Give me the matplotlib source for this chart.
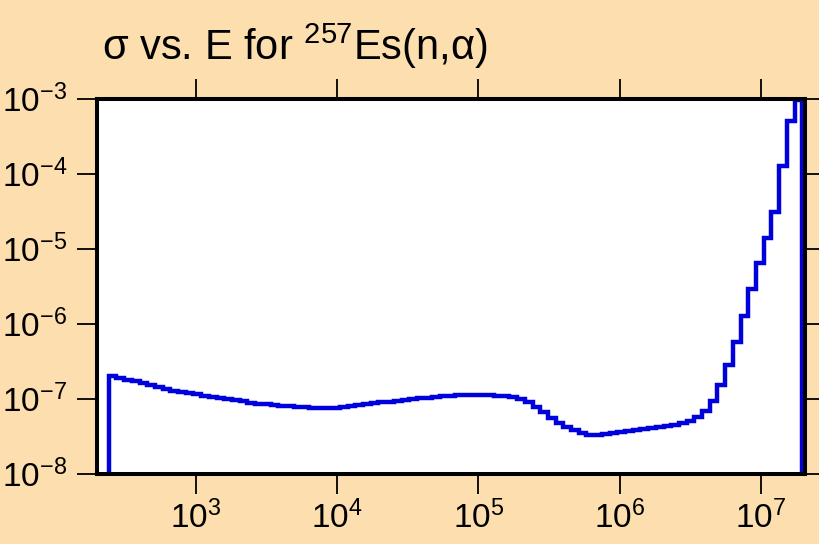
import numpy as np
import matplotlib
matplotlib.use('Agg')
import matplotlib.pyplot as plt
from matplotlib.ticker import NullLocator

plt.rcParams['font.family'] = ['Liberation Sans', 'DejaVu Sans']
plt.rcParams['mathtext.fontset'] = 'custom'
plt.rcParams['mathtext.rm'] = 'Liberation Sans'
plt.rcParams['mathtext.it'] = 'Liberation Sans:italic'
plt.rcParams['axes.unicode_minus'] = False

# energy group boundaries (eV): 90 groups, log spaced
e_lo = 2.42e2
e_hi = 1.96e7
n_groups = 90

# group cross sections
sigma = [
    2.03e-7, 1.87e-7, 1.78e-7, 1.70e-7, 1.62e-7, 1.52e-7, 1.44e-7, 1.34e-7, 1.28e-7, 1.22e-7,
    1.18e-7, 1.14e-7, 1.10e-7, 1.06e-7, 1.02e-7, 9.9e-8, 9.5e-8, 9.2e-8, 8.85e-8, 8.6e-8,
    8.4e-8, 8.2e-8, 8.07e-8, 7.9e-8, 7.78e-8, 7.64e-8, 7.5e-8, 7.45e-8, 7.45e-8, 7.59e-8,
    7.75e-8, 8.0e-8, 8.3e-8, 8.5e-8, 8.7e-8, 8.95e-8, 9.1e-8, 9.35e-8, 9.55e-8, 9.8e-8,
    1.01e-7, 1.03e-7, 1.05e-7, 1.07e-7, 1.10e-7, 1.11e-7, 1.12e-7, 1.13e-7, 1.13e-7, 1.12e-7,
    1.10e-7, 1.07e-7, 1.04e-7, 1.0e-7, 9.1e-8, 7.8e-8, 6.6e-8, 5.58e-8, 4.79e-8, 4.17e-8,
    3.77e-8, 3.5e-8, 3.31e-8, 3.28e-8, 3.39e-8, 3.52e-8, 3.63e-8, 3.72e-8, 3.83e-8, 3.96e-8,
    4.07e-8, 4.2e-8, 4.3e-8, 4.43e-8, 4.71e-8, 5.09e-8, 5.75e-8, 6.9e-8, 9.4e-8, 1.54e-7,
    2.84e-7, 5.75e-7, 1.28e-6, 2.93e-6, 6.5e-6, 1.40e-5, 3.11e-5, 1.28e-4, 5.1e-4, 9.7e-4,
]

xticks = [1e3, 1e4, 1e5, 1e6, 1e7]
yticks = [1e-8, 1e-7, 1e-6, 1e-5, 1e-4, 1e-3]

title = 'σ vs. E for $^{257}$Es(n,α)'

bg = '#FDDEAE'
blue = '#0000DD'

edges = np.logspace(np.log10(e_lo), np.log10(e_hi), n_groups + 1)

W, H = 820, 544
fig = plt.figure(figsize=(W/100, H/100), dpi=100, facecolor=bg)
ax = fig.add_axes([97/W, 1 - 473.7/H, 708/W, 375/H])
ax.set_facecolor('white')

ax.stairs(sigma, edges, baseline=1e-9, color=blue, lw=3.2)

ax.set_xscale('log')
ax.set_yscale('log')
ax.set_xlim(2.0e2, 2.05e7)
ax.set_ylim(1e-8, 1e-3)
ax.set_xticks(xticks)
ax.set_yticks(yticks)
ax.xaxis.set_minor_locator(NullLocator())
ax.yaxis.set_minor_locator(NullLocator())

for s in ax.spines.values():
    s.set_linewidth(2.9)
ax.tick_params(which='major', direction='out', length=14.5, width=1.3,
               top=True, right=True, labelsize=24)
ax.tick_params(axis='x', pad=5)
ax.tick_params(axis='y', pad=7)

fig.text(102/W, 1 - 60/H, title, fontsize=30, ha='left', va='baseline')

fig.savefig('out.png', dpi=100, facecolor=bg)
